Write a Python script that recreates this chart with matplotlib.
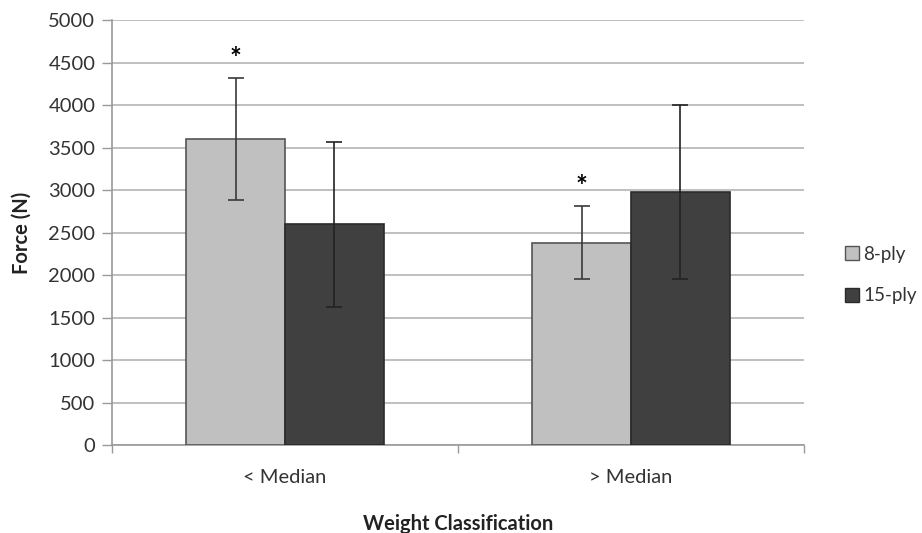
import matplotlib
matplotlib.use("Agg")
import matplotlib.pyplot as plt
import numpy as np
from matplotlib.patches import Patch

categories = ["< Median", "> Median"]
series_names = ["8-ply", "15-ply"]
ply8_values = [3600, 2380]
ply8_err = [715, 430]
ply15_values = [2600, 2975]
ply15_err = [970, 1020]
significant_8ply = [True, True]
yticks = [0, 500, 1000, 1500, 2000, 2500, 3000, 3500, 4000, 4500, 5000]

plt.rcParams['font.family'] = ['Lato', 'DejaVu Sans']

fig = plt.figure(figsize=(9.22, 5.33), dpi=100)
ax = fig.add_axes([112/922, 1-445.3/533, (804-112)/922, (445.3-20)/533])

x = np.arange(len(categories))
w = 0.285
light = "#c0c0c0"
dark = "#404040"
edge = "#555555"
ecol = "#3a3a3a"
fs = 14.5

ax.bar(x - w/2, ply8_values, w, color=light, edgecolor=edge, linewidth=1.2, zorder=3)
ax.bar(x + w/2, ply15_values, w, color=dark, edgecolor="#2a2a2a", linewidth=1.2, zorder=3)
ax.errorbar(x - w/2, ply8_values, yerr=ply8_err, fmt='none', ecolor=ecol, elinewidth=1.2,
            capsize=5.5, capthick=1.2, zorder=4)
ax.errorbar(x + w/2, ply15_values, yerr=ply15_err, fmt='none', ecolor="#222222", elinewidth=1.2,
            capsize=5.5, capthick=1.2, zorder=4)

for i, sig in enumerate(significant_8ply):
    if sig:
        ax.annotate("*", xy=(x[i] - w/2, ply8_values[i] + ply8_err[i]), xytext=(0, 8),
                    textcoords="offset points", ha="center", va="baseline", fontsize=20,
                    fontweight="bold", color="black")

ax.set_xlim(-0.5, len(categories) - 0.5)
ax.set_ylim(0, 5000)
ax.set_yticks(yticks)
ax.set_yticklabels([str(t) for t in yticks], fontsize=fs, color="#333333")
ax.yaxis.grid(True, color="#b4b4b4", linewidth=1.2, zorder=0)
ax.set_axisbelow(True)

ax.set_xticks(x)
ax.set_xticklabels(categories, fontsize=fs, color="#333333")
ax.tick_params(axis='x', which='major', length=0, pad=17)
ax.set_xticks(np.arange(-0.5, len(categories)), minor=True)
ax.tick_params(axis='x', which='minor', length=6, color="#999999", width=1)
ax.tick_params(axis='y', length=7, color="#999999", width=1, pad=5)

for s in ["top", "right"]:
    ax.spines[s].set_visible(False)
for s in ["left", "bottom"]:
    ax.spines[s].set_color("#999999")
    ax.spines[s].set_linewidth(1.2)

ax.set_ylabel("Force (N)", fontsize=fs, fontweight="bold", color="#222222", labelpad=12)
ax.set_xlabel("Weight Classification", fontsize=fs, fontweight="bold", color="#222222", labelpad=20)

handles = [Patch(facecolor=light, edgecolor=edge), Patch(facecolor=dark, edgecolor="#2a2a2a")]
fig.legend(handles, series_names, loc="center left", bbox_to_anchor=(832/922, 1-275/533),
           frameon=False, fontsize=13.5, handlelength=0.75, handleheight=0.75,
           handletextpad=0.2, labelspacing=1.3, labelcolor="#333333", borderpad=0.2)

fig.savefig("out.png", dpi=100)
